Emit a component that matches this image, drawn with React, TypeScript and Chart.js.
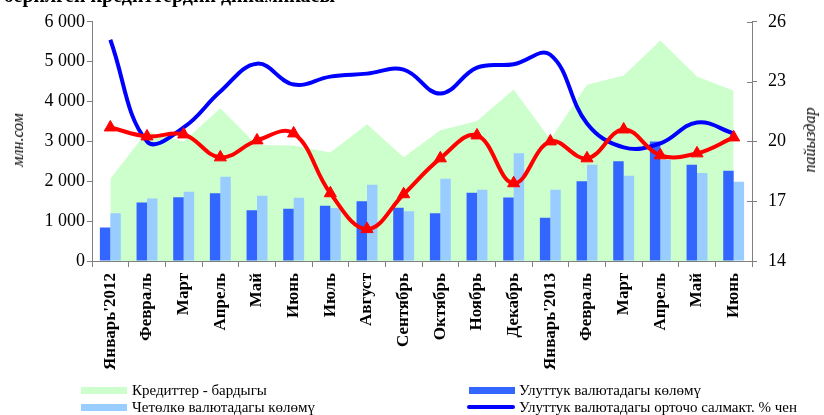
import React, { useEffect, useRef } from "react";
import { Chart, registerables } from "chart.js";

Chart.register(...registerables);

const categories = [
  "Январь'2012", "Февраль", "Март", "Апрель", "Май", "Июнь", "Июль", "Август",
  "Сентябрь", "Октябрь", "Ноябрь", "Декабрь", "Январь'2013", "Февраль", "Март",
  "Апрель", "Май", "Июнь",
];
const totalCredits = [2060, 3250, 3000, 3830, 2910, 2900, 2720, 3430, 2600, 3280, 3510, 4300, 3050, 4420, 4650, 5530, 4630, 4270];
const nationalVolume = [840, 1470, 1600, 1700, 1270, 1310, 1385, 1500, 1335, 1200, 1710, 1595, 1085, 2000, 2505, 2995, 2415, 2265];
const foreignVolume = [1200, 1570, 1740, 2115, 1635, 1585, 1330, 1910, 1245, 2065, 1790, 2705, 1785, 2415, 2140, 2540, 2210, 1985];
const nationalRate = [25.1, 20.0, 20.7, 22.5, 23.9, 22.85, 23.25, 23.4, 23.6, 22.4, 23.7, 23.87, 24.35, 20.9, 19.7, 19.9, 20.95, 20.4];
const foreignRate = [20.7, 20.25, 20.35, 19.2, 20.05, 20.4, 17.4, 15.6, 17.35, 19.15, 20.3, 17.9, 20.0, 19.15, 20.6, 19.3, 19.4, 20.2];
const leftAxis = { min: 0, max: 6000, step: 1000 };
const rightAxis = { min: 14, max: 26, step: 3 };

const legendItems = [
  "Кредиттер - бардыгы",
  "Четөлкө валютадагы көлөмү",
  "Улуттук валютадагы көлөмү",
  "Улуттук валютадагы орточо салмакт. % чен",
];

const FONT = "'Liberation Serif', 'Times New Roman', serif";
const AXIS_COLOR = "#808080";

const crossTicks = {
  id: "crossTicks",
  afterDraw(chart: any) {
    const s = chart.scales.y1;
    const ctx = chart.ctx;
    ctx.save();
    ctx.strokeStyle = AXIS_COLOR;
    ctx.lineWidth = 1;
    s.ticks.forEach((t: any) => {
      const y = Math.round(s.getPixelForValue(t.value)) + 0.5;
      ctx.beginPath();
      ctx.moveTo(s.left - 5, y);
      ctx.lineTo(s.left, y);
      ctx.stroke();
    });
    ctx.restore();
  },
};

const fmt = (v: number) => String(v).replace(/\B(?=(\d{3})+(?!\d))/g, " ");

export default function App() {
  const ref = useRef<HTMLCanvasElement>(null);

  useEffect(() => {
    const chart = new Chart(ref.current as HTMLCanvasElement, {
      type: "bar",
      data: {
        labels: categories,
        datasets: [
          {
            type: "line",
            label: legendItems[0],
            data: totalCredits,
            yAxisID: "y",
            backgroundColor: "#ccffcc",
            borderColor: "#ccffcc",
            borderWidth: 0,
            pointRadius: 0,
            fill: "origin",
            tension: 0,
            order: 4,
          } as any,
          {
            type: "bar",
            label: legendItems[2],
            data: nationalVolume,
            yAxisID: "y",
            backgroundColor: "#3366ff",
            barPercentage: 1,
            categoryPercentage: 0.57,
            order: 3,
          },
          {
            type: "bar",
            label: legendItems[1],
            data: foreignVolume,
            yAxisID: "y",
            backgroundColor: "#99ccff",
            barPercentage: 1,
            categoryPercentage: 0.57,
            order: 3,
          },
          {
            type: "line",
            label: legendItems[3],
            data: nationalRate,
            yAxisID: "y1",
            borderColor: "#0000ff",
            borderWidth: 4,
            pointRadius: 0,
            fill: false,
            tension: 0.4,
            order: 2,
          } as any,
          {
            type: "line",
            label: "rate2",
            data: foreignRate,
            yAxisID: "y1",
            borderColor: "#ff0000",
            backgroundColor: "#ff0000",
            borderWidth: 4,
            pointStyle: "triangle",
            pointRadius: 7,
            pointBorderWidth: 1,
            fill: false,
            tension: 0.4,
            order: 1,
          } as any,
        ],
      },
      options: {
        responsive: false,
        animation: false,
        layout: { padding: { top: 20, left: 0, right: 0, bottom: 0 } },
        plugins: { legend: { display: false }, tooltip: { enabled: false } },
        scales: {
          x: {
            grid: { offset: true, drawOnChartArea: false, drawTicks: true, tickLength: 6, color: AXIS_COLOR },
            border: { color: AXIS_COLOR },
            ticks: {
              autoSkip: false,
              maxRotation: 90,
              minRotation: 90,
              padding: 6,
              color: "#000",
              font: { family: FONT, size: 17, weight: "bold" },
            },
            afterFit: (s: any) => { s.height = 154; },
          },
          y: {
            position: "left",
            min: leftAxis.min,
            max: leftAxis.max,
            grid: { drawOnChartArea: false, drawTicks: true, tickLength: 5, color: AXIS_COLOR },
            border: { color: AXIS_COLOR },
            ticks: {
              stepSize: leftAxis.step,
              padding: 2,
              color: "#000",
              font: { family: FONT, size: 18 },
              callback: (v: any) => fmt(Number(v)),
            },
            afterFit: (s: any) => { s.width = 92; },
          },
          y1: {
            position: "right",
            min: rightAxis.min,
            max: rightAxis.max,
            grid: { drawOnChartArea: false, drawTicks: true, tickLength: 5, color: AXIS_COLOR },
            border: { color: AXIS_COLOR },
            ticks: {
              stepSize: rightAxis.step,
              padding: 11,
              color: "#000",
              font: { family: FONT, size: 18 },
            },
            afterFit: (s: any) => { s.width = 72; },
          },
        },
      } as any,
      plugins: [crossTicks],
    });
    return () => chart.destroy();
  }, []);

  const textStyle: React.CSSProperties = {
    position: "absolute",
    fontFamily: FONT,
    fontSize: 15,
    lineHeight: "18px",
    color: "#000",
    whiteSpace: "nowrap",
  };

  return (
    <div style={{ position: "fixed", left: 0, top: 0, width: 824, height: 415, overflow: "hidden", background: "#fff" }}>
      <canvas ref={ref} width={824} height={415} style={{ position: "absolute", left: 0, top: 0, width: 824, height: 415 }} />
      <div style={{ position: "absolute", right: 489, top: -15, fontFamily: FONT, fontSize: 20, fontWeight: "bold", lineHeight: "20px", whiteSpace: "nowrap" }}>
        Отчеттук мезгилде берилген кредиттердин динамикасы
      </div>
      <div style={{ position: "absolute", left: 18, top: 140, transform: "translate(-50%, -50%) rotate(-90deg)", fontFamily: FONT, fontStyle: "italic", fontSize: 16, whiteSpace: "nowrap" }}>
        млн.сом
      </div>
      <div style={{ position: "absolute", left: 810, top: 140, transform: "translate(-50%, -50%) rotate(-90deg)", fontFamily: FONT, fontStyle: "italic", fontSize: 16, whiteSpace: "nowrap" }}>
        пайыздар
      </div>
      <div style={{ position: "absolute", left: 81, top: 387, width: 46, height: 7, background: "#ccffcc" }} />
      <div style={{ ...textStyle, left: 132, top: 381 }}>{legendItems[0]}</div>
      <div style={{ position: "absolute", left: 81, top: 404, width: 46, height: 7, background: "#99ccff" }} />
      <div style={{ ...textStyle, left: 132, top: 398 }}>{legendItems[1]}</div>
      <div style={{ position: "absolute", left: 469, top: 387, width: 46, height: 7, background: "#3366ff" }} />
      <div style={{ ...textStyle, left: 519, top: 381 }}>{legendItems[2]}</div>
      <div style={{ position: "absolute", left: 467, top: 405, width: 48, height: 4, borderRadius: 2, background: "#0000ff" }} />
      <div style={{ ...textStyle, left: 519, top: 398 }}>{legendItems[3]}</div>
    </div>
  );
}
